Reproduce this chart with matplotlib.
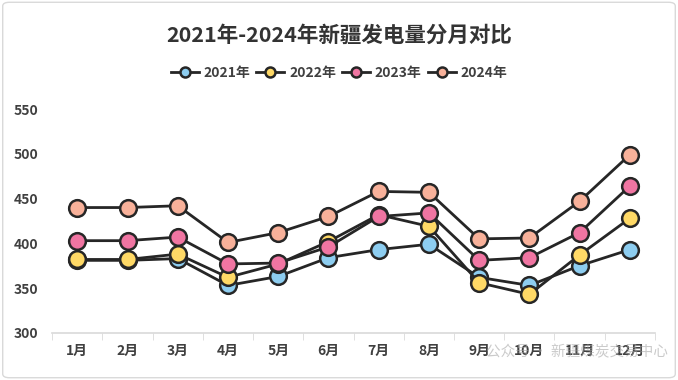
import matplotlib.pyplot as plt
import numpy as np
from matplotlib.patches import FancyBboxPatch

plt.rcParams['font.family'] = ['Noto Sans CJK SC', 'DejaVu Sans']

months = ['1月', '2月', '3月', '4月', '5月', '6月', '7月', '8月', '9月', '10月', '11月', '12月']
y2021 = [381, 381, 383, 353, 363, 384, 393, 399, 362, 353, 375, 393]
y2022 = [382, 382, 388, 362, 377, 402, 432, 419, 356, 343, 387, 428]
y2023 = [403, 403, 407, 377, 378, 396, 430, 434, 381, 384, 412, 464]
y2024 = [440, 440, 442, 401, 412, 430, 458, 457, 405, 406, 447, 499]
series = [('2021年', y2021, '#8DCDF0'),
          ('2022年', y2022, '#FFD966'),
          ('2023年', y2023, '#F075A2'),
          ('2024年', y2024, '#F8B19A')]

fig = plt.figure(figsize=(6.78, 3.8), dpi=100)
fig.patches.append(FancyBboxPatch((0.004, 0.006), 0.992, 0.988, boxstyle='round,pad=0,rounding_size=0.01',
                                  transform=fig.transFigure, fill=False, edgecolor='#D9D9D9', linewidth=1))
ax = fig.add_axes([0.077, 0.124, 0.889, 0.589])

x = np.arange(len(months))
for name, vals, col in series:
    ax.plot(x, vals, color='#262626', linewidth=2, marker='o', markersize=12,
            markerfacecolor=col, markeredgecolor='#262626', markeredgewidth=1.8, label=name)

ax.set_ylim(300, 550)
ax.set_xlim(-0.5, 11.5)
ax.set_yticks([300, 350, 400, 450, 500, 550])
ax.set_xticks(x)
ax.set_xticklabels(months)
ax.set_xticks(np.arange(-0.5, 12, 1), minor=True)
ax.tick_params(axis='x', which='major', length=0, pad=8, labelsize=10, labelcolor='#404040')
ax.tick_params(axis='x', which='minor', length=5, color='#D9D9D9', direction='out')
ax.tick_params(axis='y', length=0, pad=10, labelsize=10, labelcolor='#404040')
for lab in ax.get_xticklabels() + ax.get_yticklabels():
    lab.set_fontweight('bold')
for s in ['top', 'right', 'left']:
    ax.spines[s].set_visible(False)
ax.spines['bottom'].set_color('#D9D9D9')
ax.spines['bottom'].set_linewidth(1.2)

fig.text(0.5, 0.908, '2021年-2024年新疆发电量分月对比', ha='center', va='center',
         fontsize=15.5, fontweight='bold', color='#333333')
leg = fig.legend(loc='center', bbox_to_anchor=(0.5, 0.808), ncol=4, frameon=False,
                 fontsize=10, handlelength=2.0, handletextpad=0.35, columnspacing=0.45,
                 markerscale=0.6)
for t in leg.get_texts():
    t.set_color('#404040')
    t.set_fontweight('bold')

fig.text(0.985, 0.072, '公众号 · 新疆煤炭交易中心', ha='right', va='center',
         fontsize=10.5, color='#A0A0A0', alpha=0.55)

fig.savefig('out.png', dpi=100)
